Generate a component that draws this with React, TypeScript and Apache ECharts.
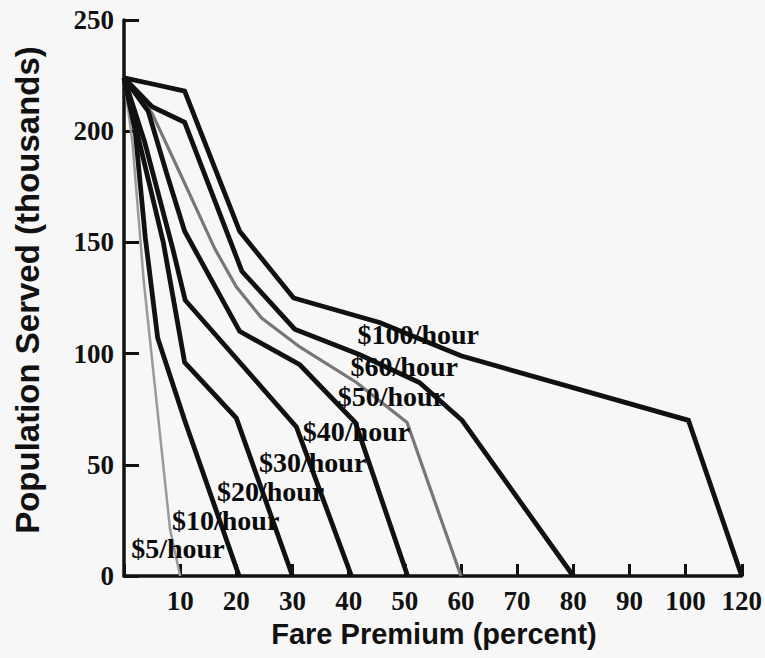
import { useEffect, useRef } from "react";
import * as echarts from "echarts";

// x axis: evenly spaced positions 0..110; the last printed label reads "120"
const xTickLabels = ["", "10", "20", "30", "40", "50", "60", "70", "80", "90", "100", "120"];
const yTickValues = [0, 50, 100, 150, 200, 250];

const seriesNames = ["$5/hour", "$10/hour", "$20/hour", "$30/hour", "$40/hour", "$50/hour", "$60/hour", "$100/hour"];

// [fare premium position, population served (thousands)]
const s5 = [[0, 224], [1.5, 195], [3.5, 133], [8.2, 21], [10, 0]];
const s10 = [[0, 224], [2, 200], [3.8, 152], [6, 107], [10.8, 70], [20.5, 0]];
const s20 = [[0, 224], [7, 150], [10.8, 96], [20, 71], [30, 0]];
const s30 = [[0, 224], [3.7, 195], [8.7, 147], [10.9, 124], [30.7, 67], [40.5, 0]];
const s40 = [[0, 224], [4.3, 209], [7.6, 181], [10.8, 155], [20.6, 110], [31.3, 95], [41.2, 69], [50.5, 0]];
const s50 = [[0, 224], [5, 208], [10, 181], [16.2, 147], [20, 130], [24.5, 116], [31.3, 103], [41.4, 87], [50.4, 69], [60, 0]];
const s60 = [[0, 224], [5, 211], [10.8, 204], [21, 137], [30.4, 111], [42, 99.5], [52.6, 87], [60.2, 70], [80, 0]];
const s100 = [[0, 224], [5.5, 221], [10.8, 218], [20.6, 155], [30.2, 125], [45.5, 114], [60, 99], [100.5, 70], [110, 0]];

// where each series name is printed (data coordinates)
const labelAnchors = [[9.6, 12.2], [18.1, 24.8], [26.1, 37.9], [33.6, 51], [41.4, 65], [47.6, 80.8], [49.9, 94.3], [52.4, 108.8]];

const allSeries = [s5, s10, s20, s30, s40, s50, s60, s100];

export default function App() {
  const ref = useRef<HTMLDivElement>(null);
  useEffect(() => {
    if (!ref.current) return;
    const chart = echarts.init(ref.current, undefined, { renderer: "svg" });
    const lineStyles = allSeries.map((_, i) => {
      if (i === 0) return { color: "#9a9a9a", width: 2.5 };
      if (i === 5) return { color: "#777777", width: 3.2 };
      return { color: "#111111", width: 4.8 };
    });
    const lineSeries = allSeries.map((d, i) => ({
      type: "line",
      name: seriesNames[i],
      data: d,
      showSymbol: false,
      symbol: "none",
      lineStyle: { ...lineStyles[i], join: "miter" },
      z: i === 0 || i === 5 ? 3 : 4,
      silent: true,
    }));
    const labelSeries = {
      type: "scatter",
      symbolSize: 0,
      z: 10,
      itemStyle: { color: "#111", opacity: 1 },
      data: labelAnchors.map((p, i) => ({ value: p, name: seriesNames[i] })),
      label: {
        show: true,
        position: "inside",
        formatter: (p: any) => p.name,
        fontFamily: "Liberation Serif",
        fontWeight: "bold",
        fontSize: 28,
        color: "#0a0a0a",
        opacity: 1,
        textBorderWidth: 0,
        textBorderColor: "transparent",
      },
      emphasis: { disabled: true },
      silent: true,
    };
    chart.setOption({
      animation: false,
      backgroundColor: "#f7f7f7",
      grid: { left: 124, right: 22, top: 20, bottom: 82 },
      xAxis: {
        type: "value",
        min: 0,
        max: 110,
        interval: 10,
        axisLine: { show: true, lineStyle: { color: "#111", width: 3.5 } },
        axisTick: { show: true, inside: true, length: 12, lineStyle: { color: "#111", width: 3 } },
        splitLine: { show: false },
        axisLabel: {
          formatter: (v: number) => xTickLabels[Math.round(v / 10)] ?? "",
          fontFamily: "Liberation Serif",
          fontWeight: "bold",
          fontSize: 27,
          color: "#111",
          margin: 11,
        },
      },
      yAxis: {
        type: "value",
        min: 0,
        max: 250,
        interval: 50,
        axisLine: { show: true, lineStyle: { color: "#111", width: 3.5 } },
        axisTick: { show: true, inside: true, length: 15, lineStyle: { color: "#111", width: 3 } },
        splitLine: { show: false },
        axisLabel: {
          formatter: (v: number) => (yTickValues.includes(v) ? String(v) : ""),
          fontFamily: "Liberation Serif",
          fontWeight: "bold",
          fontSize: 27,
          color: "#111",
          margin: 10,
        },
      },
      graphic: [
        {
          type: "text",
          x: 434,
          y: 619,
          style: {
            text: "Fare Premium (percent)",
            font: "bold 29px 'Liberation Sans'",
            fill: "#111",
            align: "center",
            verticalAlign: "top",
          },
        },
        {
          type: "text",
          x: 11,
          y: 290,
          rotation: Math.PI / 2,
          style: {
            text: "Population Served (thousands)",
            font: "bold 33px 'Liberation Sans'",
            fill: "#111",
            align: "center",
            verticalAlign: "top",
          },
        },
      ],
      series: [...lineSeries, labelSeries],
    });
    return () => chart.dispose();
  }, []);
  return (
    <div
      ref={ref}
      style={{ position: "absolute", left: 0, top: 0, width: 765, height: 658 }}
    />
  );
}
